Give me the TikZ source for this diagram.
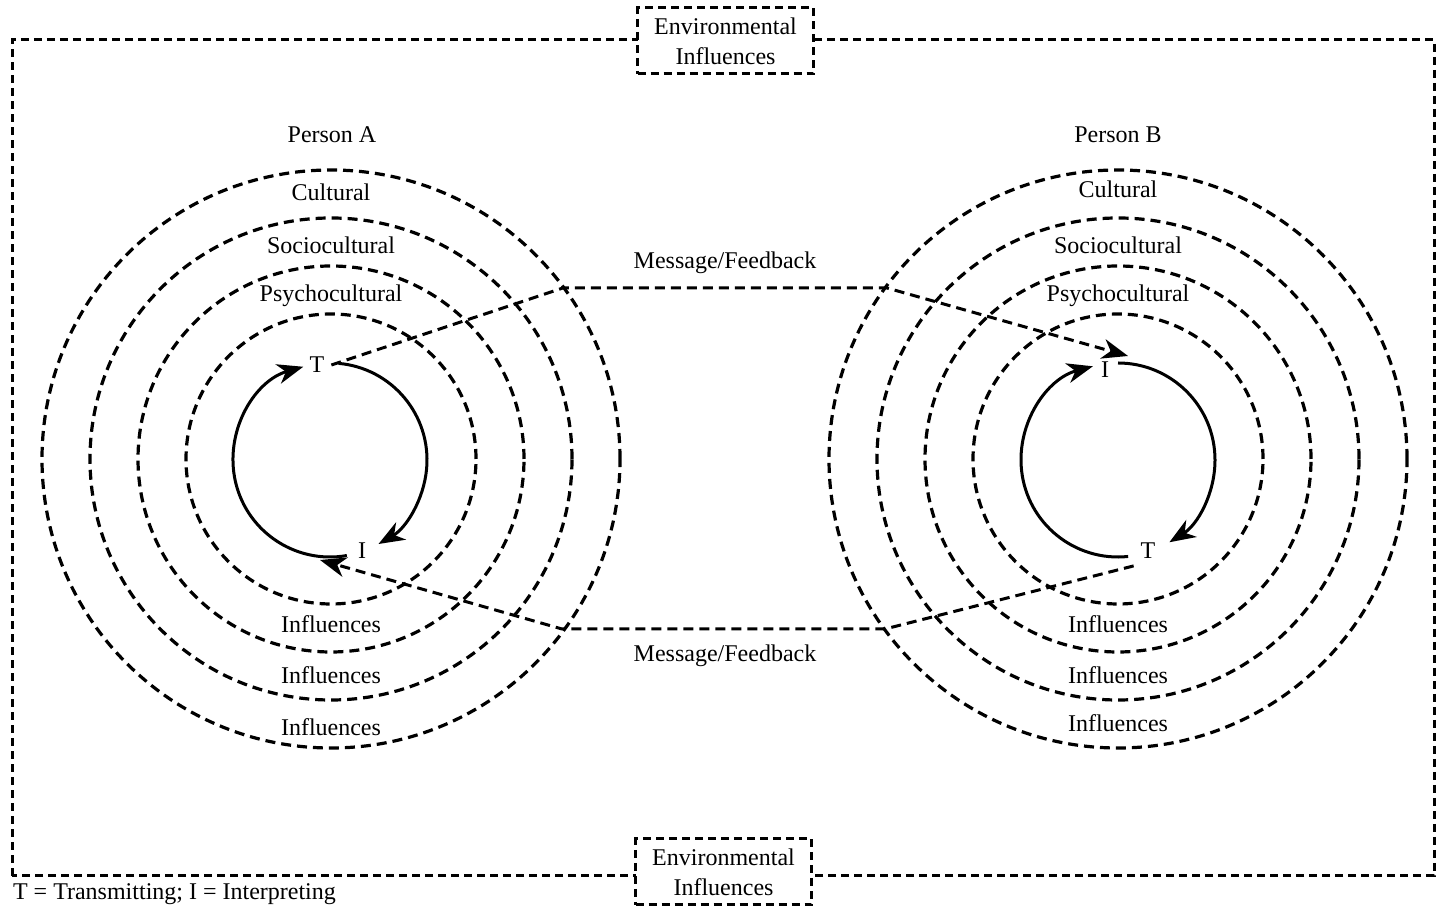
\documentclass[tikz,border=0pt]{standalone}
\usepackage{fontspec}
\setmainfont{Liberation Serif}
\usetikzlibrary{arrows.meta,positioning,calc}

\begin{document}
\begin{tikzpicture}[x=0.5pt,y=0.5pt,font=\fontsize{12}{15}\selectfont,
  ring/.style={line width=1.6pt,dash pattern=on 5pt off 3pt},
  border/.style={line width=1.5pt,dash pattern=on 4pt off 2.5pt},
  cyc/.style={line width=1.5pt,-{Stealth[length=13pt,width=10pt,inset=4pt]}},
  msg/.style={line width=1.5pt,dash pattern=on 5pt off 3pt,-{Stealth[length=13pt,width=10pt,inset=4pt]}},
  envbox/.style={draw,border,fill=white,align=center,minimum width=88pt,minimum height=33pt,inner sep=1pt}]
\useasboundingbox (0,0) rectangle (1439,909);
% frame and the two environment boxes
\draw[border] (12,33) rectangle (1434,869);
\node[envbox] (envtop) at (725.5,868) {Environmental\\Influences};
\node[envbox] (envbot) at (723.5,37) {Environmental\\Influences};
% rings of influence
\coordinate (ca) at (331,450);
\coordinate (cb) at (1118,450);
\foreach \r in {145,193,241,289} {\draw[ring] (ca) circle[radius=\r]; \draw[ring] (cb) circle[radius=\r];}
\node (pa) at (332,774) {Person A};
\node (pb) at (1118,774) {Person B};
\node (cula) at (331,717) {Cultural};
\node (culb) at (1118,720) {Cultural};
\node (soca) at (331,664) {Sociocultural};
\node (socb) at (1118,664) {Sociocultural};
\node (psya) at (331,613) {Psychocultural};
\node (psyb) at (1118,613) {Psychocultural};
\foreach \y/\nm in {285/infa1,234/infa2,182/infa3} {\node (\nm) at (331,\y) {Influences};}
\foreach \y/\nm in {285/infb1,234/infb2,186/infb3} {\node (\nm) at (1118,\y) {Influences};}
% transmitting / interpreting cycles
\coordinate (sa) at (330,449);
\coordinate (sb) at (1118,449);
\draw[cyc] ([shift={(85:97)}]sa) arc[start angle=85,end angle=-60,radius=97];
\draw[cyc] ([shift={(-80:97)}]sa) arc[start angle=-80,end angle=-254,radius=97];
\draw[cyc] ([shift={(90:97)}]sb) arc[start angle=90,end angle=-58,radius=97];
\draw[cyc] ([shift={(-84:97)}]sb) arc[start angle=-84,end angle=-255,radius=97];
\node (ta) at (317,544) {T};
\node (ia) at (362,358) {I};
\node (ib) at (1105,539) {I};
\node (tb) at (1148,358) {T};
% message / feedback
\coordinate (m1) at (563,621);
\coordinate (m2) at (887,621);
\coordinate (tipb) at (1128,553);
\coordinate (f1) at (885,280);
\coordinate (f2) at (562,280);
\coordinate (tipa) at (320,349);
\draw[msg] (ta.east) -- (m1) -- (m2) -- (tipb);
\draw[msg] (tb.south west) -- (f1) -- (f2) -- (tipa);
\node (msgtop) at (725,646) {Message/Feedback};
\node (msgbot) at (725,253) {Message/Feedback};
\node[anchor=west] (key) at (6,15) {T = Transmitting; I = Interpreting};
\end{tikzpicture}
\end{document}
